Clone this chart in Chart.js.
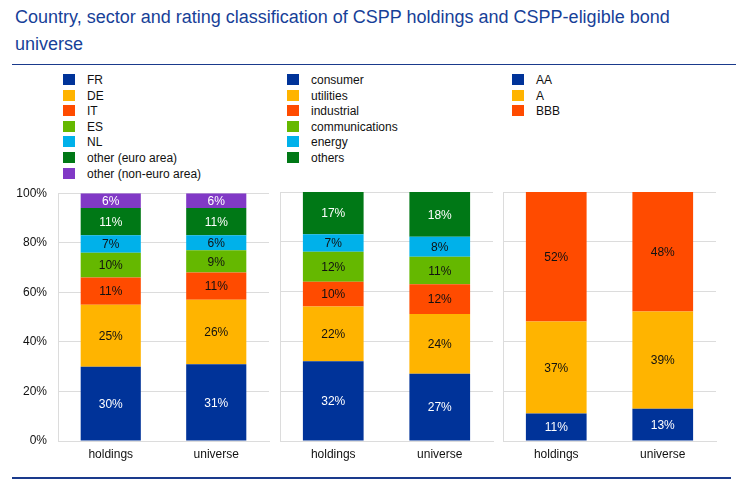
<!DOCTYPE html>
<html lang="en">
<head>
    <meta charset="UTF-8">
    <title>CSPP holdings and universe</title>
    <style>
        body { margin: 0; width: 746px; height: 486px; background: #fff; font-family: 'Liberation Sans', Arial, sans-serif; position: relative; overflow: hidden; }
        .title { position: absolute; left: 15px; top: 4px; width: 720px; font-size: 18px; line-height: 27px; color: #173f98; }
        .rule { position: absolute; left: 12px; height: 0; border-top: 1.5px solid #1a3a8c; }
        .legend { position: absolute; top: 73px; font-size: 12px; color: #111; }
        .legend div { height: 15.6px; line-height: 15.6px; white-space: nowrap; }
        .legend span { display: inline-block; width: 12px; height: 11px; vertical-align: -1px; margin-right: 12px; }
        canvas { position: absolute; }
    </style>
</head>
<body>
    <div class="title">Country, sector and rating classification of CSPP holdings and CSPP-eligible bond universe</div>
    <div class="rule" style="top:64px; width:724px;"></div>
    <div class="legend" id="legendCountry" style="left:63px;"></div>
    <div class="legend" id="legendSector" style="left:287px;"></div>
    <div class="legend" id="legendRating" style="left:512px;"></div>

    <div style="position:absolute; left:0; top:175px; width:272px; height:295px;"><canvas id="countryChart"></canvas></div>
    <div style="position:absolute; left:270px; top:180px; width:226px; height:290px;"><canvas id="sectorChart"></canvas></div>
    <div style="position:absolute; left:493px; top:180px; width:226px; height:290px;"><canvas id="ratingChart"></canvas></div>

    <div class="rule" style="top:477px; width:719px; border-top-width:2px;"></div>

    <script src="https://cdn.jsdelivr.net/npm/chart.js"></script>
    <script>
    // data (percent of total)
    const categories = ['holdings', 'universe'];
    const yTicks = [0, 20, 40, 60, 80, 100];

    const countryLabels = ['FR', 'DE', 'IT', 'ES', 'NL', 'other (euro area)', 'other (non-euro area)'];
    const countryHoldings = [30, 25, 11, 10, 7, 11, 6];
    const countryUniverse = [31, 26, 11, 9, 6, 11, 6];

    const sectorLabels = ['consumer', 'utilities', 'industrial', 'communications', 'energy', 'others'];
    const sectorHoldings = [32, 22, 10, 12, 7, 17];
    const sectorUniverse = [27, 24, 12, 11, 8, 18];

    const ratingLabels = ['AA', 'A', 'BBB'];
    const ratingHoldings = [11, 37, 52];
    const ratingUniverse = [13, 39, 48];

    // styles
    const fillColors = ['#003399', '#ffb400', '#ff4b00', '#65b800', '#00b1ea', '#007816', '#8139c6'];
    const textColors = ['#fff', '#111', '#111', '#111', '#111', '#fff', '#fff'];
    const gridColor = '#dcdcdc';

    Chart.defaults.font.family = "'Liberation Sans', Arial, sans-serif";
    Chart.defaults.font.size = 12;
    Chart.defaults.color = '#111';

    const segmentLabels = {
        id: 'segmentLabels',
        afterDatasetsDraw(chart) {
            const ctx = chart.ctx;
            ctx.save();
            ctx.font = "12px 'Liberation Sans', Arial, sans-serif";
            ctx.textAlign = 'center';
            ctx.textBaseline = 'middle';
            chart.data.datasets.forEach((ds, di) => {
                const meta = chart.getDatasetMeta(di);
                meta.data.forEach((bar, i) => {
                    const p = bar.getCenterPoint();
                    ctx.fillStyle = textColors[di];
                    ctx.fillText(ds.data[i] + '%', p.x, p.y + 1);
                });
            });
            ctx.restore();
        }
    };

    function buildLegend(id, labels) {
        const box = document.getElementById(id);
        labels.forEach((lab, i) => {
            const row = document.createElement('div');
            const sw = document.createElement('span');
            sw.style.background = fillColors[i];
            row.appendChild(sw);
            row.appendChild(document.createTextNode(lab));
            box.appendChild(row);
        });
    }

    function makeChart(canvasId, labels, holdings, universe, showTicks) {
        const datasets = labels.map((lab, i) => ({
            label: lab,
            data: [holdings[i], universe[i]],
            backgroundColor: fillColors[i],
            borderWidth: 0,
            barPercentage: 1,
            categoryPercentage: 0.57
        }));
        return new Chart(document.getElementById(canvasId), {
            type: 'bar',
            data: { labels: categories, datasets: datasets },
            options: {
                responsive: true,
                maintainAspectRatio: false,
                animation: false,
                layout: { padding: { top: 12, right: 3, left: 0, bottom: 0 } },
                plugins: { legend: { display: false }, tooltip: { enabled: false } },
                scales: {
                    x: {
                        stacked: true,
                        grid: { display: false, drawTicks: false },
                        border: { color: gridColor },
                        ticks: { padding: 6, color: '#111' },
                        afterFit(scale) { scale.height = 29; }
                    },
                    y: {
                        stacked: true,
                        min: 0,
                        max: 100,
                        afterBuildTicks(scale) { scale.ticks = yTicks.map(v => ({ value: v })); },
                        grid: { color: gridColor, drawTicks: false },
                        border: { color: gridColor },
                        ticks: {
                            display: showTicks,
                            padding: 11,
                            color: '#111',
                            callback: v => v + '%'
                        },
                        afterFit(scale) { scale.width = showTicks ? 58 : 10; }
                    }
                }
            },
            plugins: [segmentLabels]
        });
    }

    buildLegend('legendCountry', countryLabels);
    buildLegend('legendSector', sectorLabels);
    buildLegend('legendRating', ratingLabels);

    makeChart('countryChart', countryLabels, countryHoldings, countryUniverse, true);
    makeChart('sectorChart', sectorLabels, sectorHoldings, sectorUniverse, false);
    makeChart('ratingChart', ratingLabels, ratingHoldings, ratingUniverse, false);
    </script>
</body>
</html>
